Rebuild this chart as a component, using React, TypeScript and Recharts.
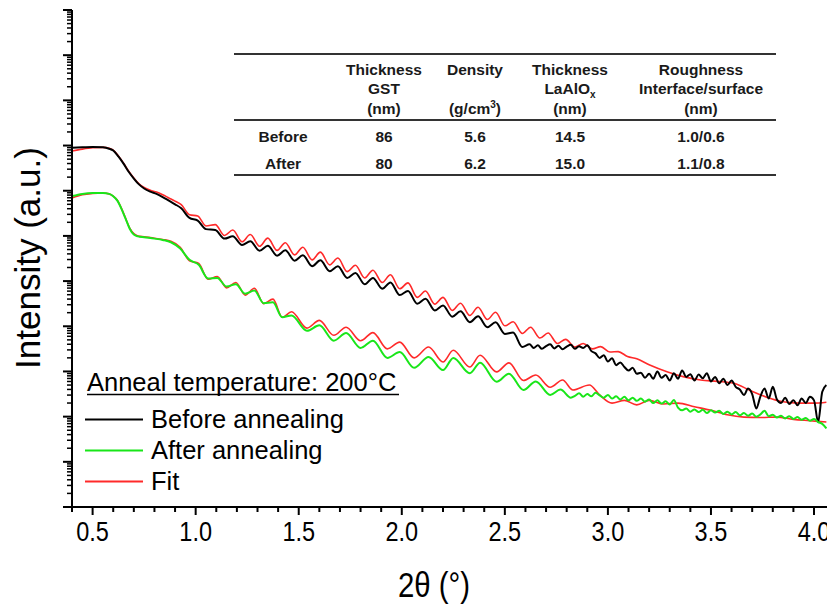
import { LineChart, Line, XAxis, YAxis } from 'recharts';

const W = 827;
const H = 605;

const sans = '"Liberation Sans", Arial, sans-serif';

// [2theta (deg), log10 intensity]
const beforeAnneal: [number, number][] = [
  [0.4, 7.95], [0.45, 7.96], [0.5, 7.97], [0.55, 7.96], [0.58, 7.93], [0.6, 7.89], [0.625, 7.76],
  [0.65, 7.6], [0.675, 7.42], [0.7, 7.27], [0.725, 7.14], [0.75, 7.05], [0.78, 6.98], [0.81, 6.93],
  [0.84, 6.86], [0.87, 6.78], [0.9, 6.7], [0.93, 6.61], [0.97, 6.4], [1.01, 6.34], [1.05, 6.15],
  [1.095, 6.13], [1.14, 5.94], [1.18, 5.99], [1.225, 5.8], [1.265, 5.88], [1.31, 5.67], [1.35, 5.78],
  [1.395, 5.56], [1.435, 5.68], [1.48, 5.45], [1.52, 5.57], [1.565, 5.33], [1.605, 5.46], [1.65, 5.22],
  [1.69, 5.33], [1.735, 5.07], [1.775, 5.18], [1.82, 4.93], [1.86, 5.07], [1.905, 4.83], [1.945, 4.97],
  [1.99, 4.69], [2.03, 4.78], [2.075, 4.5], [2.115, 4.61], [2.16, 4.35], [2.2, 4.46], [2.245, 4.21],
  [2.285, 4.33], [2.33, 4.09], [2.37, 4.22], [2.415, 3.98], [2.455, 4.09], [2.5, 3.83], [2.54, 3.86],
  [2.585, 3.54], [2.62, 3.6], [2.64, 3.52], [2.66, 3.58], [2.68, 3.5], [2.7, 3.56], [2.72, 3.6],
  [2.74, 3.51], [2.76, 3.57], [2.78, 3.49], [2.8, 3.55], [2.82, 3.59], [2.84, 3.5], [2.86, 3.56],
  [2.88, 3.52], [2.9, 3.58], [2.92, 3.45], [2.94, 3.4], [2.96, 3.3], [2.98, 3.36], [3.0, 3.22],
  [3.02, 3.29], [3.04, 3.14], [3.06, 3.2], [3.08, 3.1], [3.1, 3.02], [3.12, 3.08], [3.14, 2.95],
  [3.16, 2.97], [3.18, 2.86], [3.2, 2.95], [3.22, 2.84], [3.24, 3.0], [3.26, 2.86], [3.28, 2.92],
  [3.3, 2.8], [3.32, 2.96], [3.34, 2.84], [3.36, 3.02], [3.38, 2.88], [3.4, 2.94], [3.42, 2.8],
  [3.44, 2.93], [3.46, 2.85], [3.48, 2.96], [3.5, 2.78], [3.52, 2.88], [3.54, 2.74], [3.56, 2.84],
  [3.58, 2.7], [3.6, 2.8], [3.62, 2.66], [3.64, 2.6], [3.66, 2.48], [3.68, 2.62], [3.7, 2.5],
  [3.72, 2.18], [3.74, 2.45], [3.76, 2.62], [3.78, 2.4], [3.8, 2.66], [3.82, 2.38], [3.84, 2.3],
  [3.86, 2.42], [3.88, 2.28], [3.9, 2.36], [3.92, 2.25], [3.94, 2.4], [3.96, 2.3], [3.98, 2.44],
  [4.0, 2.36], [4.02, 1.88], [4.04, 2.55], [4.06, 2.7],
];

const afterAnneal: [number, number][] = [
  [0.4, 6.88], [0.45, 6.93], [0.5, 6.95], [0.55, 6.95], [0.58, 6.93], [0.6, 6.88], [0.62, 6.78],
  [0.64, 6.6], [0.66, 6.38], [0.68, 6.16], [0.7, 6.03], [0.72, 5.99], [0.75, 5.97], [0.8, 5.94],
  [0.84, 5.91], [0.88, 5.86], [0.925, 5.72], [0.97, 5.47], [1.015, 5.36], [1.06, 5.06], [1.105, 5.07],
  [1.15, 4.88], [1.195, 4.93], [1.24, 4.72], [1.285, 4.79], [1.33, 4.51], [1.375, 4.53], [1.42, 4.2],
  [1.465, 4.24], [1.54, 3.9], [1.6, 4.02], [1.67, 3.68], [1.73, 3.85], [1.8, 3.52], [1.86, 3.68],
  [1.93, 3.3], [1.99, 3.43], [2.06, 3.08], [2.13, 3.32], [2.2, 3.03], [2.25, 3.3], [2.33, 2.96],
  [2.38, 3.19], [2.46, 2.77], [2.52, 2.95], [2.59, 2.59], [2.65, 2.78], [2.72, 2.48], [2.77, 2.6],
  [2.82, 2.42], [2.84, 2.46], [2.86, 2.52], [2.88, 2.44], [2.9, 2.5], [2.92, 2.45], [2.94, 2.53],
  [2.96, 2.47], [2.98, 2.42], [3.0, 2.48], [3.02, 2.4], [3.04, 2.45], [3.06, 2.38], [3.08, 2.44],
  [3.1, 2.36], [3.12, 2.42], [3.14, 2.35], [3.16, 2.4], [3.18, 2.33], [3.2, 2.38], [3.22, 2.3],
  [3.24, 2.36], [3.26, 2.29], [3.28, 2.34], [3.3, 2.27], [3.32, 2.37], [3.34, 2.2], [3.36, 2.14],
  [3.38, 2.18], [3.4, 2.11], [3.42, 2.16], [3.44, 2.1], [3.46, 2.15], [3.48, 2.08], [3.5, 2.14],
  [3.52, 2.09], [3.54, 2.13], [3.56, 2.06], [3.58, 2.11], [3.6, 2.05], [3.62, 2.1], [3.64, 2.03],
  [3.66, 2.08], [3.68, 2.02], [3.7, 2.07], [3.72, 2.0], [3.74, 2.05], [3.76, 2.13], [3.78, 2.01],
  [3.8, 2.04], [3.82, 1.98], [3.84, 2.02], [3.86, 1.96], [3.88, 2.01], [3.9, 1.95], [3.92, 1.99],
  [3.94, 1.93], [3.96, 1.97], [3.98, 1.91], [4.0, 1.95], [4.02, 1.88], [4.04, 1.84], [4.06, 1.74],
];

const fitBefore: [number, number][] = [
  [0.4, 7.88], [0.45, 7.92], [0.5, 7.95], [0.55, 7.96], [0.58, 7.94], [0.6, 7.9], [0.625, 7.77],
  [0.65, 7.61], [0.675, 7.43], [0.7, 7.28], [0.725, 7.15], [0.75, 7.07], [0.78, 7.01], [0.81, 6.97],
  [0.84, 6.91], [0.87, 6.84], [0.9, 6.77], [0.93, 6.69], [0.97, 6.47], [1.01, 6.44], [1.05, 6.22],
  [1.095, 6.25], [1.14, 6.01], [1.18, 6.13], [1.225, 5.87], [1.265, 6.03], [1.31, 5.77], [1.35, 5.95],
  [1.395, 5.68], [1.435, 5.85], [1.48, 5.58], [1.52, 5.75], [1.565, 5.47], [1.605, 5.64], [1.65, 5.36],
  [1.69, 5.51], [1.735, 5.21], [1.775, 5.35], [1.82, 5.07], [1.86, 5.24], [1.905, 4.97], [1.945, 5.14],
  [1.99, 4.83], [2.03, 4.96], [2.075, 4.64], [2.115, 4.78], [2.16, 4.49], [2.2, 4.64], [2.245, 4.35],
  [2.285, 4.51], [2.33, 4.24], [2.37, 4.42], [2.415, 4.15], [2.455, 4.31], [2.5, 4.01], [2.54, 4.1],
  [2.585, 3.84], [2.625, 3.98], [2.67, 3.74], [2.71, 3.85], [2.755, 3.62], [2.795, 3.71], [2.84, 3.54],
  [2.88, 3.62], [2.925, 3.5], [2.965, 3.55], [3.01, 3.43], [3.05, 3.44], [3.095, 3.33], [3.14, 3.28],
  [3.2, 3.15], [3.29, 2.99], [3.37, 2.88], [3.45, 2.81], [3.53, 2.78], [3.61, 2.74], [3.69, 2.58],
  [3.77, 2.43], [3.85, 2.33], [3.93, 2.3], [4.0, 2.3], [4.06, 2.32],
];

const fitAfter: [number, number][] = [
  [0.4, 6.84], [0.45, 6.91], [0.5, 6.94], [0.55, 6.95], [0.58, 6.93], [0.6, 6.88], [0.62, 6.79],
  [0.64, 6.61], [0.66, 6.39], [0.68, 6.17], [0.7, 6.05], [0.72, 6.0], [0.75, 5.98], [0.8, 5.95],
  [0.84, 5.92], [0.88, 5.88], [0.925, 5.75], [0.97, 5.45], [1.015, 5.39], [1.06, 5.04], [1.105, 5.1],
  [1.15, 4.85], [1.195, 4.97], [1.24, 4.69], [1.285, 4.84], [1.33, 4.5], [1.375, 4.6], [1.42, 4.2],
  [1.465, 4.32], [1.54, 3.96], [1.6, 4.13], [1.67, 3.8], [1.73, 3.98], [1.8, 3.68], [1.86, 3.86],
  [1.93, 3.5], [1.99, 3.65], [2.06, 3.3], [2.13, 3.54], [2.2, 3.21], [2.25, 3.47], [2.33, 3.1],
  [2.38, 3.36], [2.46, 2.99], [2.52, 3.19], [2.59, 2.8], [2.65, 2.92], [2.72, 2.65], [2.78, 2.81],
  [2.83, 2.59], [2.91, 2.7], [2.96, 2.48], [3.02, 2.3], [3.08, 2.36], [3.14, 2.26], [3.2, 2.36],
  [3.27, 2.28], [3.34, 2.3], [3.42, 2.22], [3.5, 2.14], [3.58, 2.04], [3.66, 1.99], [3.74, 1.98],
  [3.82, 1.99], [3.9, 1.94], [3.98, 1.91], [4.06, 1.88],
];

const xTicks = [
  0.4, 0.5, 0.6, 0.7, 0.8, 0.9, 1.0, 1.1, 1.2, 1.3, 1.4, 1.5, 1.6, 1.7, 1.8, 1.9, 2.0, 2.1, 2.2,
  2.3, 2.4, 2.5, 2.6, 2.7, 2.8, 2.9, 3.0, 3.1, 3.2, 3.3, 3.4, 3.5, 3.6, 3.7, 3.8, 3.9, 4.0,
];
const decades = [0, 1, 2, 3, 4, 5, 6, 7, 8, 9, 10];
const yTicks = decades.flatMap((d) => [1, 2, 3, 4, 5, 6, 7, 8, 9].map((k) => k * 10 ** d)).concat([1e11]);

const tableHead = [
  ['Thickness', 'GST', '(nm)'],
  ['Density', '', '(g/cm3)'],
  ['Thickness', 'LaAlOx', '(nm)'],
  ['Roughness', 'Interface/surface', '(nm)'],
];
const tableRows = [
  ['Before', '86', '5.6', '14.5', '1.0/0.6'],
  ['After', '80', '6.2', '15.0', '1.1/0.8'],
];

const legendTitle = 'Anneal temperature: 200°C';
const legendItems = [
  { label: 'Before annealing', color: '#000000' },
  { label: 'After annealing', color: '#19e619' },
  { label: 'Fit', color: '#ff2a2a' },
];

const toPoints = (arr: [number, number][]) => arr.map(([x, lg]) => ({ x, y: 10 ** lg }));

// tick labels and x title are set in a narrow face: squeeze Liberation Sans
const XTick = (props: any) => {
  const { x, y, payload } = props;
  const v = payload.value as number;
  const major = Math.abs(v * 2 - Math.round(v * 2)) < 1e-6;
  return (
    <g>
      <line x1={x} x2={x} y1={y} y2={y + (major ? 8 : 5)} stroke="#000" strokeWidth={2} />
      {major && (
        <text
          transform={`translate(${x},${y + 34}) scale(0.84,1)`}
          textAnchor="middle"
          fontFamily={sans}
          fontSize={28}
          fill="#000"
        >
          {v.toFixed(1)}
        </text>
      )}
    </g>
  );
};

const YTick = (props: any) => {
  const { x, y, payload } = props;
  const lg = Math.log10(payload.value);
  const major = Math.abs(lg - Math.round(lg)) < 1e-6;
  return <line x1={x} x2={x - (major ? 9 : 5)} y1={y} y2={y} stroke="#000" strokeWidth={major ? 2 : 1.5} />;
};

const colX = [283, 384, 475, 570, 701];

function Overlay() {
  return (
    <svg width={W} height={H} style={{ position: 'absolute', left: 0, top: 0, pointerEvents: 'none' }}>
      <text transform="translate(40,258) rotate(-90)" textAnchor="middle" fontFamily={sans} fontSize={35} fill="#000">
        Intensity (a.u.)
      </text>
      <text transform="translate(434,597) scale(0.84,1)" textAnchor="middle" fontFamily={sans} fontSize={35} fill="#000">
        2θ (°)
      </text>

      <line x1={234} x2={776} y1={54} y2={54} stroke="#333" strokeWidth={2} />
      <line x1={234} x2={776} y1={120} y2={120} stroke="#333" strokeWidth={2} />
      <line x1={234} x2={776} y1={175} y2={175} stroke="#333" strokeWidth={2} />
      <g fontFamily={sans} fontSize={15.5} fontWeight="bold" fill="#1a1a1a" textAnchor="middle">
        {tableHead.map((lines, c) =>
          lines.map((t, r) => {
            const y = 74.5 + r * 19.5;
            if (t === 'LaAlOx')
              return (
                <text key={`${c}-${r}`} x={colX[c + 1]} y={y}>
                  LaAlO<tspan fontSize={10} dy={4}>x</tspan>
                </text>
              );
            if (t === '(g/cm3)')
              return (
                <text key={`${c}-${r}`} x={colX[c + 1]} y={y}>
                  (g/cm<tspan fontSize={10} dy={-6}>3</tspan>
                  <tspan dy={6}>)</tspan>
                </text>
              );
            return (
              <text key={`${c}-${r}`} x={colX[c + 1]} y={y}>
                {t}
              </text>
            );
          })
        )}
        {tableRows.map((row, r) =>
          row.map((t, c) => (
            <text key={`r${r}-${c}`} x={colX[c]} y={141.5 + r * 27}>
              {t}
            </text>
          ))
        )}
      </g>

      <text x={87} y={391} fontFamily={sans} fontSize={25.5} fill="#000">
        {legendTitle}
      </text>
      <line x1={87} x2={399} y1={394.5} y2={394.5} stroke="#000" strokeWidth={1.5} />
      {legendItems.map((it, i) => (
        <g key={it.label}>
          <line x1={85} x2={143} y1={419.5 + i * 31} y2={419.5 + i * 31} stroke={it.color} strokeWidth={2} />
          <text x={151} y={428 + i * 31} fontFamily={sans} fontSize={25.5} fill="#000">
            {it.label}
          </text>
        </g>
      ))}
    </svg>
  );
}

export default function App() {
  return (
    <div style={{ position: 'absolute', left: 0, top: 0, width: W, height: H, background: '#fff' }}>
      <LineChart width={W} height={H} margin={{ top: 10, right: 0, bottom: 0, left: 0 }}>
        <XAxis
          xAxisId="main"
          dataKey="x"
          type="number"
          domain={[0.4, 4.063]}
          allowDataOverflow
          ticks={xTicks}
          interval={0}
          tick={<XTick />}
          tickLine={false}
          tickSize={0}
          tickMargin={0}
          height={98}
          axisLine={{ stroke: '#000', strokeWidth: 2 }}
        />
        <XAxis
          xAxisId="top"
          orientation="top"
          type="number"
          domain={[0.4, 4.063]}
          tick={false}
          tickLine={false}
          height={0}
          axisLine={{ stroke: '#000', strokeWidth: 2 }}
        />
        <YAxis
          yAxisId="main"
          scale="log"
          type="number"
          domain={[1, 1e11]}
          allowDataOverflow
          ticks={yTicks}
          interval={0}
          tick={<YTick />}
          tickLine={false}
          tickSize={0}
          tickMargin={0}
          width={72}
          axisLine={{ stroke: '#000', strokeWidth: 2 }}
        />
        <Line xAxisId="main" yAxisId="main" data={toPoints(fitBefore)} dataKey="y" type="monotone" stroke="#ff2a2a" strokeWidth={1.6} dot={false} activeDot={false} isAnimationActive={false} />
        <Line xAxisId="main" yAxisId="main" data={toPoints(fitAfter)} dataKey="y" type="monotone" stroke="#ff2a2a" strokeWidth={1.6} dot={false} activeDot={false} isAnimationActive={false} />
        <Line xAxisId="main" yAxisId="main" data={toPoints(beforeAnneal)} dataKey="y" type="monotone" stroke="#000000" strokeWidth={2} dot={false} activeDot={false} isAnimationActive={false} />
        <Line xAxisId="main" yAxisId="main" data={toPoints(afterAnneal)} dataKey="y" type="monotone" stroke="#19e619" strokeWidth={2} dot={false} activeDot={false} isAnimationActive={false} />
      </LineChart>
      <Overlay />
    </div>
  );
}
